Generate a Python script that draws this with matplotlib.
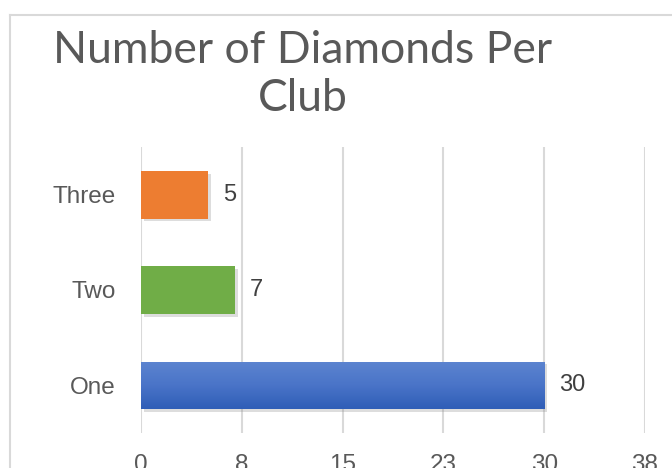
import numpy as np
import matplotlib
matplotlib.use('Agg')
import matplotlib.pyplot as plt
import matplotlib.patheffects as pe
from matplotlib.colors import LinearSegmentedColormap
from matplotlib.lines import Line2D


# data
clubs = ['One', 'Two', 'Three']
diamonds = [30, 7, 5]
bar_colors = ['#4472C4', '#70AD47', '#ED7D31']
tick_values = [0, 7.5, 15, 22.5, 30, 37.5]
tick_labels = ['0', '8', '15', '23', '30', '38']
title = 'Number of Diamonds Per\nClub'


fig = plt.figure(figsize=(6.72, 4.68), dpi=100, facecolor='white')
ax = fig.add_axes([141/672, 1 - 433/468, 504/672, 286/468])

# chart area border (cropped on the right and bottom)
fig.add_artist(Line2D([10/672, 10/672], [0, 1 - 15/468], color='#D9D9D9', lw=1.5))
fig.add_artist(Line2D([10/672, 1], [1 - 15/468, 1 - 15/468], color='#D9D9D9', lw=1.5))

ypos = np.arange(len(clubs))
shadow = [pe.SimplePatchShadow(offset=(2, -2), shadow_rgbFace='#909090', alpha=0.3), pe.Normal()]
bars = ax.barh(ypos, diamonds, height=0.5, color=bar_colors, zorder=3)
for b in bars:
    b.set_path_effects(shadow)

# gradient on the blue bar
blue = bars[0]
grad_cmap = LinearSegmentedColormap.from_list('bl', ['#2F5EB7', '#4A74C8', '#5C84D0'])
grad = np.linspace(0, 1, 64).reshape(-1, 1)
x0, y0 = blue.get_x(), blue.get_y()
im = ax.imshow(grad, cmap=grad_cmap, aspect='auto', origin='lower',
               extent=[x0, x0 + blue.get_width(), y0, y0 + blue.get_height()], zorder=4)
im.set_clip_path(blue)

for b, v in zip(bars, diamonds):
    ax.text(b.get_width() + 1.1, b.get_y() + b.get_height() / 2, str(v),
            va='center', ha='left', fontsize=17, color='#404040',
            family='Liberation Sans', zorder=5)

ax.set_xlim(0, 37.5)
ax.set_ylim(-0.5, 2.5)
ax.set_xticks(tick_values)
ax.set_xticklabels(tick_labels)
ax.set_yticks(ypos)
ax.set_yticklabels(clubs)
ax.tick_params(axis='both', length=0, labelsize=17.5, labelcolor='#595959')
ax.tick_params(axis='x', pad=15)
ax.tick_params(axis='y', pad=18)
for lab in ax.get_xticklabels() + ax.get_yticklabels():
    lab.set_family('Liberation Sans')
ax.grid(axis='x', color='#D9D9D9', lw=1.5, zorder=0)
ax.set_axisbelow(True)
for s in ax.spines.values():
    s.set_visible(False)

fig.text(303/672, 1 - 30/468, title, ha='center', va='top', fontsize=32,
         color='#595959', family='Lato', linespacing=1.2)

fig.savefig('out.png', dpi=100, facecolor='white')
